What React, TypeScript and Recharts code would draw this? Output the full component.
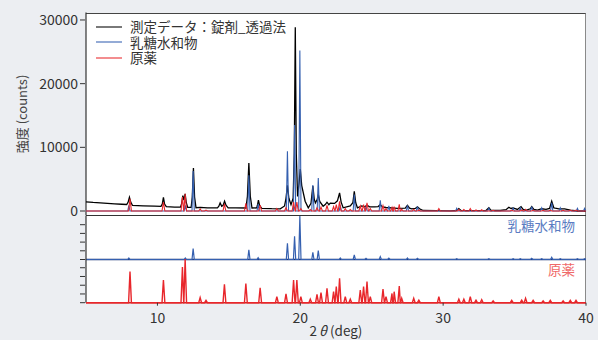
import React from 'react';
import { LineChart, Line, XAxis, YAxis, Legend, Label, ReferenceLine } from 'recharts';

const X_TICKS = [10, 20, 30, 40];
const Y_TICKS = [0, 10000, 20000, 30000];
const LACTOSE_TICKS = [0, 5040, 10080, 15120, 20160];
const API_TICKS = [0, 540, 1080, 1620, 2160];

const SERIES_NAMES = ['測定データ：錠剤_透過法', '乳糖水和物', '原薬'];
const SERIES_COLORS = ['#000000', '#3560b0', '#e8262b'];

const tabletPoints: [number, number][] = [
  [5.0, 1450], [5.5, 1350], [6.0, 1280], [6.5, 1200], [7.0, 1130], [7.5, 1060], [7.85, 1020],
  [7.95, 1400], [8.04, 2150], [8.13, 1400], [8.25, 900], [9.0, 820], [9.8, 760], [10.25, 720],
  [10.34, 1100], [10.42, 2150], [10.5, 1100], [10.62, 680], [11.2, 620], [11.62, 620], [11.7, 1200],
  [11.78, 2430], [11.85, 1700], [11.94, 2700], [12.02, 1300], [12.12, 560], [12.36, 560], [12.44, 2200],
  [12.52, 6770], [12.6, 2200], [12.7, 520], [13.0, 560], [13.5, 500], [14.2, 500], [14.3, 750],
  [14.39, 1280], [14.5, 750], [14.6, 900], [14.7, 1540], [14.8, 900], [14.95, 500], [15.5, 480],
  [16.2, 470], [16.3, 2300], [16.4, 7550], [16.5, 2300], [16.62, 470], [16.95, 480], [17.0, 900],
  [17.07, 1700], [17.15, 900], [17.3, 420], [18.0, 360], [18.6, 350], [18.9, 800], [19.0, 2000],
  [19.1, 4040], [19.2, 2000], [19.35, 1000], [19.5, 2000], [19.58, 9000], [19.65, 28870], [19.72, 9000],
  [19.81, 2300], [19.92, 4500], [20.0, 6600], [20.1, 4000], [20.34, 1540], [20.56, 500], [20.75, 1200],
  [20.88, 3900], [20.98, 1800], [21.06, 1280], [21.18, 1800], [21.26, 2600], [21.36, 1500], [21.6, 750],
  [21.75, 1000], [21.87, 1380], [22.0, 1000], [22.1, 1250], [22.4, 1200], [22.6, 1600], [22.75, 2850],
  [22.86, 1400], [23.0, 500], [23.5, 800], [23.68, 1300], [23.78, 3100], [23.88, 1300], [24.0, 500],
  [24.3, 800], [24.5, 650], [24.67, 900], [24.85, 650], [25.2, 650], [25.45, 700], [25.6, 1000],
  [25.75, 650], [26.0, 550], [26.8, 400], [27.35, 450], [27.5, 900], [27.65, 450], [27.8, 350],
  [28.05, 400], [28.2, 650], [28.35, 350], [28.6, 80], [29.5, 50], [30.5, 30], [30.95, 80],
  [31.1, 390], [31.25, 100], [31.4, 50], [32.5, 60], [33.0, 80], [33.2, 500], [33.35, 80], [34.0, 80],
  [34.4, 200], [34.6, 600], [34.75, 400], [34.9, 500], [35.2, 250], [35.45, 700], [35.6, 250],
  [35.8, 100], [36.1, 350], [36.2, 700], [36.35, 250], [36.6, 150], [36.9, 350], [37.2, 250],
  [37.45, 400], [37.6, 1540], [37.75, 500], [37.85, 450], [38.1, 350], [38.5, 350], [38.9, 150],
  [39.4, 0], [40.0, 0],
];

// lactose hydrate reference peaks [2θ, counts]
const lactosePeaks: [number, number][] = [
  [8.0, 900], [11.95, 900], [12.5, 6300], [16.4, 5600], [17.05, 1100], [19.1, 9400], [19.6, 13500],
  [19.97, 25200], [20.88, 4100], [21.26, 5200], [22.8, 900], [23.78, 2600], [24.6, 700], [25.6, 1700],
  [26.2, 800], [27.5, 900], [28.2, 700], [30.95, 400], [33.2, 450], [34.9, 450], [35.4, 500],
  [36.2, 700], [36.9, 500], [37.6, 1300], [38.2, 500], [39.4, 400], [39.9, 400],
];

// API reference peaks [2θ, counts]
const apiPeaks: [number, number][] = [
  [8.08, 1920], [10.42, 1400], [11.75, 2210], [11.94, 2700], [12.99, 320], [13.4, 140], [14.69, 1130],
  [16.19, 1190], [17.19, 920], [18.36, 380], [19.0, 540], [19.53, 1400], [19.76, 1400], [20.04, 380],
  [20.7, 220], [21.17, 510], [21.45, 620], [21.87, 890], [22.33, 680], [22.52, 1000], [22.75, 1510],
  [23.15, 380], [23.5, 220], [24.2, 780], [24.43, 1000], [24.67, 1300], [24.9, 380], [25.79, 840],
  [26.0, 380], [26.42, 570], [26.57, 680], [26.93, 1030], [27.1, 270], [27.94, 270], [28.3, 160],
  [29.7, 380], [31.1, 220], [31.45, 220], [31.9, 380], [32.3, 160], [32.7, 190], [33.5, 110],
  [34.8, 140], [35.5, 160], [35.77, 270], [36.3, 140], [37.0, 110], [37.5, 140], [38.4, 110],
  [38.9, 140], [39.3, 140],
];

type Pt = { x: number; y: number };

// each peak drawn as a narrow spike on a zero baseline
const toProfile = (peaks: [number, number][], halfWidth: number): Pt[] => {
  const pts: Pt[] = [{ x: 5, y: 0 }, { x: 40, y: 0 }];
  peaks.forEach(([x, h]) => {
    pts.push({ x: x - halfWidth, y: 0 }, { x, y: h }, { x: x + halfWidth, y: 0 });
  });
  return pts.sort((a, b) => a.x - b.x);
};

const tabletData: Pt[] = tabletPoints.map(([x, y]) => ({ x, y }));
const lactoseData = toProfile(lactosePeaks, 0.08);
const apiData = toProfile(apiPeaks, 0.1);

const FONT = '"Noto Sans CJK JP", "Noto Sans", sans-serif';
const AXIS = '#333';

// left-axis tick: short mark plus optional number
const LeftTick = (props: any) => {
  const { x, y, payload, showLabel } = props;
  return (
    <g>
      <line x1={x + 2} y1={y} x2={x + 7} y2={y} stroke={AXIS} strokeWidth={1} />
      {showLabel && (
        <text x={x} y={y} dy="0.35em" textAnchor="end" fontSize={14} fill="#333">
          {payload.value}
        </text>
      )}
    </g>
  );
};

const BottomTick = (props: any) => {
  const { x, y, payload } = props;
  return (
    <g>
      <line x1={x} y1={y - 8} x2={x} y2={y - 5} stroke={AXIS} strokeWidth={1} />
      <text x={x} y={y} dy="0.85em" textAnchor="middle" fontSize={14} fill="#333">
        {payload.value}
      </text>
    </g>
  );
};

const XTitle = (props: any) => {
  const { viewBox } = props;
  const cx = viewBox.x + viewBox.width / 2;
  return (
    <text x={cx} y={viewBox.y + 33} textAnchor="middle" fontSize={13.5} fill="#333">
      2<tspan fontStyle="italic" dx={2}>θ</tspan> (deg)
    </text>
  );
};

const renderLegend = () => (
  <div style={{ fontSize: 13.5, color: '#333', lineHeight: '15.5px', fontFamily: FONT }}>
    {SERIES_NAMES.map((name, i) => (
      <div key={name} style={{ display: 'flex', alignItems: 'center' }}>
        <svg width={26} height={4}>
          <line x1={0} y1={2} x2={26} y2={2} stroke={SERIES_COLORS[i]} strokeWidth={1.5} strokeOpacity={0.7} />
        </svg>
        <span style={{ marginLeft: 8, whiteSpace: 'nowrap' }}>{name}</span>
      </div>
    ))}
  </div>
);

const App: React.FC = () => {
  return (
    <div
      style={{
        position: 'absolute', left: 0, top: 0, width: 598, height: 340,
        background: '#eceef2', fontFamily: FONT, overflow: 'hidden',
      }}
    >
      {/* plot background with top and right border */}
      <div style={{
        position: 'absolute', left: 86, top: 12.5, width: 500, height: 290.2, background: '#fff',
        boxSizing: 'border-box', borderTop: '1px solid #444', borderRight: '1.5px solid #8a8a8a',
      }} />

      {/* main panel */}
      <div style={{ position: 'absolute', left: 0, top: 0 }}>
        <LineChart width={598} height={226} margin={{ top: 12.5, right: 12, bottom: 10.5, left: 0 }}>
          <XAxis dataKey="x" type="number" domain={[5, 40]} height={0} tick={false} tickLine={false} axisLine={false} />
          <YAxis type="number" domain={[-705, 31175]} ticks={Y_TICKS} interval={0} width={86}
            tickLine={false} tick={<LeftTick showLabel />} axisLine={false} />
          <ReferenceLine x={5} stroke={AXIS} strokeWidth={1.2} />
          <ReferenceLine y={-705} stroke={AXIS} strokeWidth={1.2} />
          <Legend layout="vertical" align="center" verticalAlign="middle" content={renderLegend}
            wrapperStyle={{ left: 96, top: 19, width: 'auto', height: 'auto' }} />
          <Line data={tabletData} dataKey="y" name={SERIES_NAMES[0]} stroke={SERIES_COLORS[0]} strokeWidth={1.3}
            dot={false} type="linear" isAnimationActive={false} />
          <Line data={lactoseData} dataKey="y" name={SERIES_NAMES[1]} stroke={SERIES_COLORS[1]} strokeWidth={1.1}
            dot={false} type="linear" isAnimationActive={false} />
          <Line data={apiData} dataKey="y" name={SERIES_NAMES[2]} stroke={SERIES_COLORS[2]} strokeWidth={1.1}
            dot={false} type="linear" isAnimationActive={false} />
        </LineChart>
      </div>

      {/* lactose panel */}
      <div style={{ position: 'absolute', left: 0, top: 211.5 }}>
        <LineChart width={598} height={52} margin={{ top: 4, right: 12, bottom: 4.5, left: 0 }}>
          <XAxis dataKey="x" type="number" domain={[5, 40]} height={0} tick={false} tickLine={false} axisLine={false} />
          <YAxis type="number" domain={[0, 25200]} ticks={LACTOSE_TICKS} interval={0} width={86}
            tickLine={false} tick={<LeftTick />} axisLine={false} />
          <ReferenceLine x={5} stroke={AXIS} strokeWidth={1.2} />
          <ReferenceLine y={0} stroke="#1e3474" strokeWidth={1.4} />
          <Line data={lactoseData} dataKey="y" stroke={SERIES_COLORS[1]} strokeWidth={1.2}
            dot={false} type="linear" isAnimationActive={false} />
        </LineChart>
      </div>

      {/* API panel */}
      <div style={{ position: 'absolute', left: 0, top: 255 }}>
        <LineChart width={598} height={85} margin={{ top: 4, right: 12, bottom: 17.3, left: 0 }}>
          <XAxis dataKey="x" type="number" domain={[5, 40]} ticks={X_TICKS} interval={0} height={20}
            tickLine={false} tick={<BottomTick />} axisLine={false}>
            <Label content={<XTitle />} />
          </XAxis>
          <YAxis type="number" domain={[0, 2700]} ticks={API_TICKS} interval={0} width={86}
            tickLine={false} tick={<LeftTick />} axisLine={false} />
          <ReferenceLine x={5} stroke={AXIS} strokeWidth={1.2} />
          <ReferenceLine y={0} stroke="#d42020" strokeWidth={1.4} />
          <Line data={apiData} dataKey="y" stroke={SERIES_COLORS[2]} strokeWidth={1.4}
            dot={false} type="linear" isAnimationActive={false} />
        </LineChart>
      </div>

      {/* axis title and panel captions */}
      <div style={{
        position: 'absolute', left: 21, top: 114, transform: 'translate(-50%, -50%) rotate(-90deg)',
        fontSize: 13, color: '#444', whiteSpace: 'nowrap',
      }}>
        強度 (counts)
      </div>
      <div style={{
        position: 'absolute', right: 23, top: 217, fontSize: 13.5, lineHeight: '16px',
        color: '#5b7cc2', whiteSpace: 'nowrap',
      }}>
        乳糖水和物
      </div>
      <div style={{
        position: 'absolute', right: 23, top: 261, fontSize: 13.5, lineHeight: '16px',
        color: '#f06a6a', whiteSpace: 'nowrap',
      }}>
        原薬
      </div>
    </div>
  );
};

export default App;
